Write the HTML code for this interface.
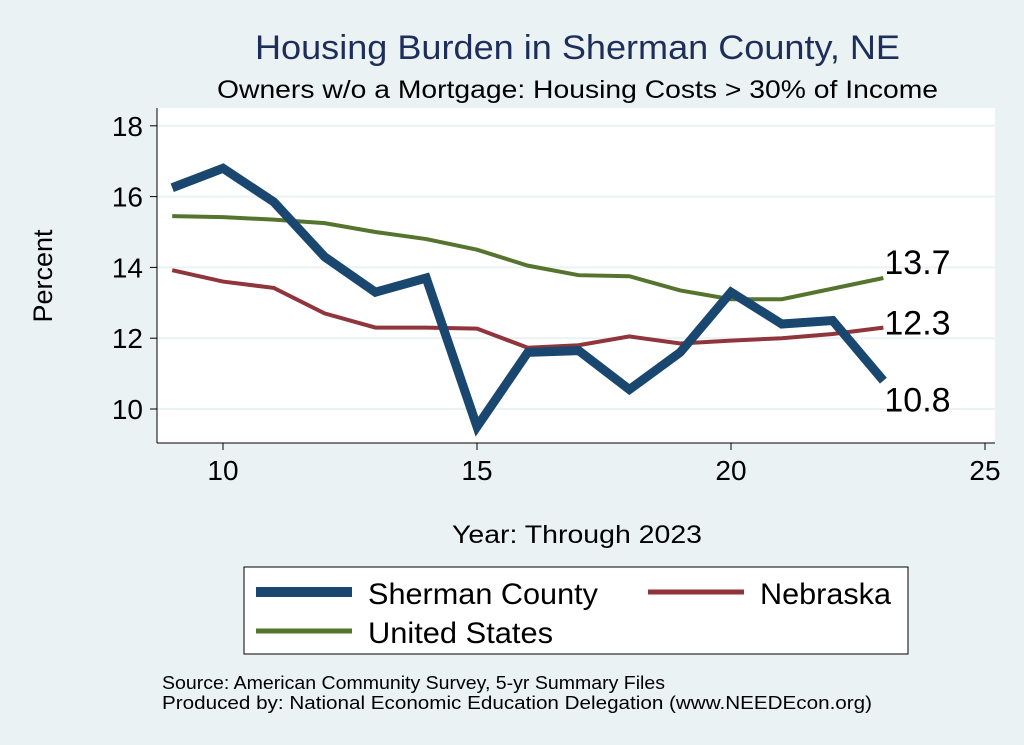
<!DOCTYPE html>
<html><head><meta charset="utf-8"><style>
body{margin:0;background:#eaf2f3;font-family:"Liberation Sans",sans-serif}
</style></head><body>
<svg width="1024" height="745" viewBox="0 0 1024 745" style="display:block">
<rect width="1024" height="745" fill="#eaf2f3"/>
<text x="255" y="59" font-size="34" fill="#1e2e5a" textLength="645" lengthAdjust="spacingAndGlyphs">Housing Burden in Sherman County, NE</text>
<text x="217" y="98" font-size="25" fill="#000" textLength="721" lengthAdjust="spacingAndGlyphs">Owners w/o a Mortgage: Housing Costs &gt; 30% of Income</text>
<rect x="157" y="108" width="838" height="335" fill="#fff"/>
<g id="grid"></g><g id="axes"></g><g id="series"></g>
<text x="52" y="276" font-size="27" text-anchor="middle" transform="rotate(-90 52 276)">Percent</text>
<text x="452" y="543" font-size="25" textLength="250" lengthAdjust="spacingAndGlyphs">Year: Through 2023</text>
<g>
<rect x="244" y="567" width="664" height="87" fill="#fff" stroke="#000" stroke-width="1"/>
<line x1="256" y1="592" x2="352" y2="592" stroke="#1a476f" stroke-width="10"/>
<text x="368" y="604" font-size="30" textLength="230" lengthAdjust="spacingAndGlyphs">Sherman County</text>
<line x1="648" y1="592" x2="744" y2="592" stroke="#90353b" stroke-width="5"/>
<text x="760" y="604" font-size="30" textLength="131" lengthAdjust="spacingAndGlyphs">Nebraska</text>
<line x1="256" y1="631" x2="352" y2="631" stroke="#55752f" stroke-width="5"/>
<text x="368" y="643" font-size="30" textLength="185" lengthAdjust="spacingAndGlyphs">United States</text>
</g>
<text x="162" y="689" font-size="18" textLength="503" lengthAdjust="spacingAndGlyphs">Source: American Community Survey, 5-yr Summary Files</text>
<text x="162" y="709" font-size="18" textLength="710" lengthAdjust="spacingAndGlyphs">Produced by: National Economic Education Delegation (www.NEEDEcon.org)</text>
</svg>
<script>
const years=[9,10,11,12,13,14,15,16,17,18,19,20,21,22,23];
const sherman=[16.25,16.8,15.85,14.3,13.3,13.7,9.5,11.6,11.65,10.55,11.6,13.3,12.4,12.5,10.8];
const nebraska=[13.92,13.6,13.42,12.7,12.3,12.3,12.27,11.73,11.8,12.05,11.85,11.93,12.0,12.12,12.3];
const usa=[15.45,15.42,15.35,15.25,15.0,14.8,14.5,14.05,13.78,13.75,13.35,13.1,13.1,13.4,13.7];
const xTicks=[10,15,20,25];
const yTicks=[10,12,14,16,18];
const NS="http://www.w3.org/2000/svg";
const X=v=>223+(v-10)*50.8;
const Y=v=>409-(v-10)*35.4;
function mk(t,a,p){const e=document.createElementNS(NS,t);for(const k in a)e.setAttribute(k,a[k]);p.appendChild(e);return e;}
const g=document.getElementById('grid'),ax=document.getElementById('axes'),s=document.getElementById('series');
mk('line',{x1:157,y1:108,x2:157,y2:443,stroke:'#000'},ax);
mk('line',{x1:157,y1:443,x2:995,y2:443,stroke:'#000'},ax);
yTicks.forEach(v=>{
 const l=mk('line',{x1:157,x2:995,y1:Y(v),y2:Y(v),stroke:'#eaf2f3','stroke-width':2},g);
 
 
 mk('line',{x1:150,x2:157,y1:Y(v),y2:Y(v),stroke:'#000'},ax);
 const t=mk('text',{x:143,y:Y(v)+10,'font-size':28,'text-anchor':'end'},ax);
 t.textContent=v;
 
 
});
xTicks.forEach(v=>{
 mk('line',{x1:X(v),x2:X(v),y1:443,y2:450,stroke:'#000'},ax);
 const t=mk('text',{x:X(v),y:480,'font-size':28,'text-anchor':'middle'},ax);
 t.textContent=v;
 
 
});
function line(data,color,w,name){
 const p=mk('polyline',{points:years.map((y,i)=>X(y)+','+Y(data[i])).join(' '),fill:'none',stroke:color,'stroke-width':w,'stroke-linejoin':'miter'},s);
 
 
}
line(usa,'#55752f',4,'line-united-states');
line(nebraska,'#90353b',4,'line-nebraska');
line(sherman,'#1a476f',9,'line-sherman-county');
const n=years.length-1;
[[usa,-4,'label-us-last'],[nebraska,7,'label-nebraska-last'],[sherman,31,'label-sherman-last']].forEach(([d,dy,nm])=>{
 const t=mk('text',{x:X(years[n])+1,y:Y(d[n])+dy,'font-size':34},s);
 t.textContent=d[n].toFixed(1);
 
 
});
</script>
</body></html>
